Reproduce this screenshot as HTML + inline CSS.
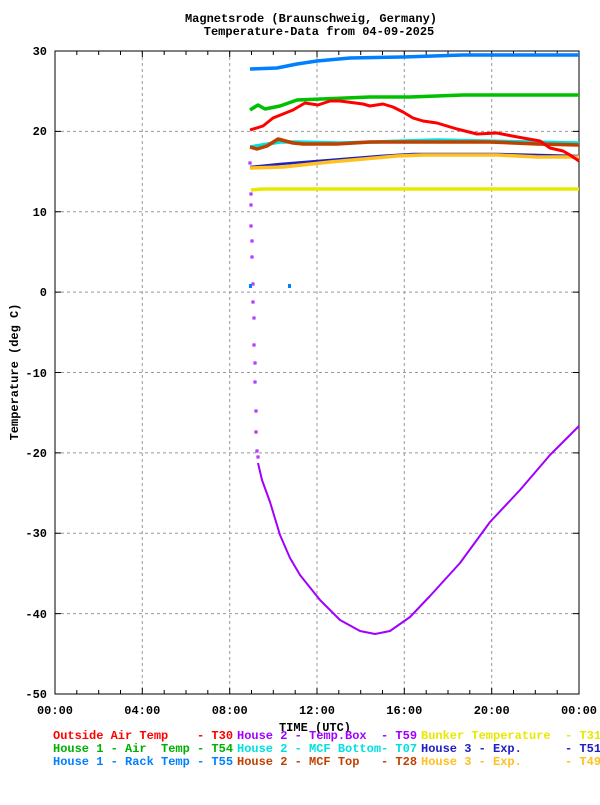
<!DOCTYPE html>
<html><head><style>
body{margin:0;background:#fff;}
svg text{font-family:"Liberation Mono",monospace;font-weight:bold;font-size:12px;}
</style></head><body>
<svg width="600" height="800" xmlns="http://www.w3.org/2000/svg">
<rect width="600" height="800" fill="#fff"/>
<text x="311" y="22" text-anchor="middle">Magnetsrode (Braunschweig, Germany)</text>
<text x="319" y="35" text-anchor="middle">Temperature-Data from 04-09-2025</text>
<g stroke="#999" stroke-dasharray="3,3" stroke-width="1">
<line x1="142.3" y1="51" x2="142.3" y2="694"/><line x1="229.7" y1="51" x2="229.7" y2="694"/>
<line x1="317" y1="51" x2="317" y2="694"/><line x1="404.3" y1="51" x2="404.3" y2="694"/>
<line x1="491.7" y1="51" x2="491.7" y2="694"/>
<line x1="55" y1="131.4" x2="579" y2="131.4"/><line x1="55" y1="211.8" x2="579" y2="211.8"/>
<line x1="55" y1="292.1" x2="579" y2="292.1"/><line x1="55" y1="372.5" x2="579" y2="372.5"/>
<line x1="55" y1="452.9" x2="579" y2="452.9"/><line x1="55" y1="533.3" x2="579" y2="533.3"/>
<line x1="55" y1="613.6" x2="579" y2="613.6"/>
</g>
<g stroke="#000" stroke-width="1">
<path d="M55,51v6M76.8,51v4M98.7,51v4M120.5,51v4M142.3,51v6M164.2,51v4M186,51v4M207.8,51v4M229.7,51v6M251.5,51v4M273.3,51v4M295.2,51v4M317,51v6M338.8,51v4M360.7,51v4M382.5,51v4M404.3,51v6M426.2,51v4M448,51v4M469.8,51v4M491.7,51v6M513.5,51v4M535.3,51v4M557.2,51v4"/>
<path d="M55,694v-6M76.8,694v-4M98.7,694v-4M120.5,694v-4M142.3,694v-6M164.2,694v-4M186,694v-4M207.8,694v-4M229.7,694v-6M251.5,694v-4M273.3,694v-4M295.2,694v-4M317,694v-6M338.8,694v-4M360.7,694v-4M382.5,694v-4M404.3,694v-6M426.2,694v-4M448,694v-4M469.8,694v-4M491.7,694v-6M513.5,694v-4M535.3,694v-4M557.2,694v-4"/>
<path d="M55,131.4h6M55,211.8h6M55,292.1h6M55,372.5h6M55,452.9h6M55,533.3h6M55,613.6h6M579,131.4h-6M579,211.8h-6M579,292.1h-6M579,372.5h-6M579,452.9h-6M579,533.3h-6M579,613.6h-6"/>
</g>
<rect x="55" y="51" width="524" height="643" fill="none" stroke="#000" stroke-width="1"/>
<g text-anchor="end">
<text x="47" y="55">30</text><text x="47" y="135">20</text><text x="47" y="216">10</text>
<text x="47" y="296">0</text><text x="47" y="377">-10</text><text x="47" y="457">-20</text>
<text x="47" y="537">-30</text><text x="47" y="618">-40</text><text x="47" y="698">-50</text>
</g>
<g text-anchor="middle">
<text x="55" y="714">00:00</text><text x="142.3" y="714">04:00</text><text x="229.7" y="714">08:00</text>
<text x="317" y="714">12:00</text><text x="404.3" y="714">16:00</text><text x="491.7" y="714">20:00</text>
<text x="579" y="714">00:00</text>
<text x="315" y="731">TIME (UTC)</text>
</g>
<text transform="translate(18,372) rotate(-90)" text-anchor="middle">Temperature (deg C)</text>
<g fill="none" stroke-width="3.5" stroke-linejoin="round">
<polyline stroke="#0080ff" points="250,69 277,68 297,64 317,61 350,58 403,57 463,55 579,55"/>
<polyline stroke="#00c000" points="250,110 258,105 265,109 280,106 297,100 370,97 410,97 463,95 579,95"/>
<polyline stroke="#e8e800" points="251,190 262,189 579,189"/>
<polyline stroke="#2020c0" stroke-width="2.5" points="250,167 280,164 330,160 380,156 413,154 497,154 579,156"/>
<polyline stroke="#ffc020" points="250,168 283,167 330,162 397,156 423,155 497,155 537,157 579,157"/>
<polyline stroke="#00e0e0" points="250,147 280,142 297,142 340,143 437,140 579,143"/>
<polyline stroke="#c04000" points="250,147 257,149 267,146 278,139 293,143 303,144 337,144 370,142 490,142 537,144 579,145"/>
<polyline stroke="#ff0000" stroke-width="3" points="250,130 263,126 273,118 283,114 293,110 305,103 318,105 330,101 340,101 363,104 370,106 383,104 393,107 403,112 413,118 423,121 437,123 457,129 477,134 497,133 507,135 523,138 540,141 550,148 563,151 570,155 579,161"/>
<polyline stroke="#a000ff" stroke-width="2" points="258,463 262,480 270,502 280,535 290,558 300,575 320,600 340,620 360,631 375,634 390,631 410,617 430,596 460,563 490,522 520,490 550,455 579,426"/>
</g>
<g fill="#fff" stroke="#a000ff" stroke-width="1">
<rect x="249" y="162" width="2" height="2"/><rect x="250" y="193" width="2" height="2"/><rect x="250" y="204" width="2" height="2"/>
<rect x="250" y="225" width="2" height="2"/><rect x="251" y="240" width="2" height="2"/><rect x="251" y="256" width="2" height="2"/>
<rect x="252" y="283" width="2" height="2"/><rect x="252" y="301" width="2" height="2"/><rect x="253" y="317" width="2" height="2"/>
<rect x="253" y="344" width="2" height="2"/><rect x="254" y="362" width="2" height="2"/><rect x="254" y="381" width="2" height="2"/>
<rect x="255" y="410" width="2" height="2"/><rect x="255" y="431" width="2" height="2"/><rect x="256" y="450" width="2" height="2"/>
<rect x="257" y="456" width="2" height="2"/>
</g>
<rect x="249" y="284" width="3" height="4" fill="#0080ff"/><rect x="288" y="284" width="3" height="4" fill="#0080ff"/>
<g>
<text x="53" y="739" fill="#ff0000" xml:space="preserve">Outside Air Temp    - T30</text>
<text x="237" y="739" fill="#a000ff" xml:space="preserve">House 2 - Temp.Box  - T59</text>
<text x="421" y="739" fill="#e8e800" xml:space="preserve">Bunker Temperature  - T31</text>
<text x="53" y="752" fill="#00b000" xml:space="preserve">House 1 - Air  Temp - T54</text>
<text x="237" y="752" fill="#00e0e0" xml:space="preserve">House 2 - MCF Bottom- T07</text>
<text x="421" y="752" fill="#2020c0" xml:space="preserve">House 3 - Exp.      - T51</text>
<text x="53" y="765" fill="#0080ff" xml:space="preserve">House 1 - Rack Temp - T55</text>
<text x="237" y="765" fill="#c04000" xml:space="preserve">House 2 - MCF Top   - T28</text>
<text x="421" y="765" fill="#ffc020" xml:space="preserve">House 3 - Exp.      - T49</text>
</g>
</svg>
</body></html>
